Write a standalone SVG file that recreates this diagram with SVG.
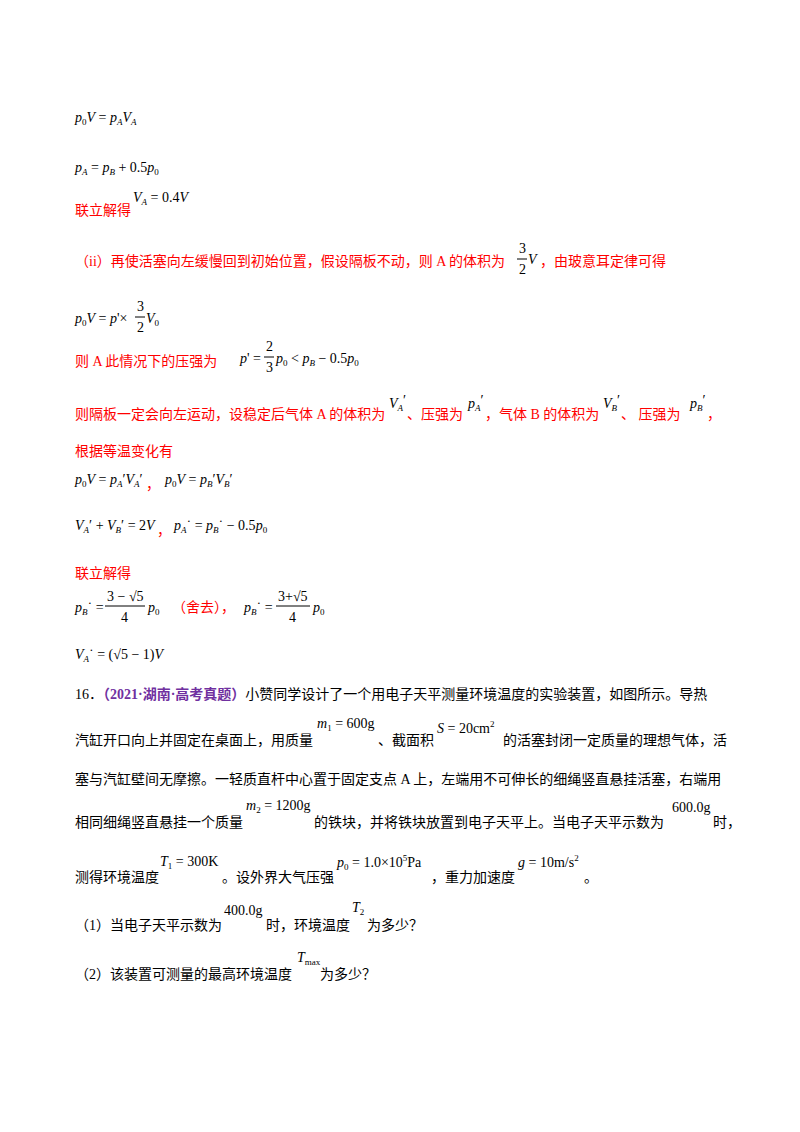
<svg xmlns="http://www.w3.org/2000/svg" width="800" height="1132" viewBox="0 0 800 1132">
<style>
text{font-family:"Liberation Serif","Noto Sans CJK SC",serif;font-size:14px;fill:#000}
.r{fill:#ff0000}
.m{font-style:italic}
.n{font-style:normal}
.s{font-size:9px}
.p{fill:#7030a0;font-weight:bold}
.f{font-size:14px}
</style>
<rect width="800" height="1132" fill="#fff"/>
<g id="solution">
<text x="75" y="122" class="m">p<tspan class="s n" dy="3">0</tspan><tspan dy="-3">V</tspan><tspan class="n"> = </tspan>p<tspan class="s" dy="3">A</tspan><tspan dy="-3">V</tspan><tspan class="s" dy="3">A</tspan></text>
<text x="75" y="172" class="m">p<tspan class="s" dy="3">A</tspan><tspan class="n" dy="-3"> = </tspan>p<tspan class="s" dy="3">B</tspan><tspan class="n" dy="-3"> + 0.5</tspan>p<tspan class="s n" dy="3">0</tspan></text>
<text x="75" y="215" class="r">联立解得</text>
<text x="133" y="202" class="m">V<tspan class="s" dy="3">A</tspan><tspan class="n" dy="-3"> = 0.4</tspan>V</text>
<text x="75" y="266" class="r">（ii）再使活塞向左缓慢回到初始位置，假设隔板不动，则 A 的体积为</text>
<text x="519" y="253" class="f">3</text><line x1="517" y1="259" x2="527" y2="259" stroke="#000"/><text x="519" y="274" class="f">2</text>
<text x="528" y="264" class="m">V</text>
<text x="540" y="266" class="r">，由玻意耳定律可得</text>
<text x="75" y="323" class="m">p<tspan class="s n" dy="3">0</tspan><tspan dy="-3">V</tspan><tspan class="n"> = </tspan>p<tspan class="n">'×</tspan></text>
<text x="137" y="311" class="f">3</text><line x1="135" y1="317" x2="145" y2="317" stroke="#000"/><text x="137" y="332" class="f">2</text>
<text x="146" y="323" class="m">V<tspan class="s n" dy="3">0</tspan></text>
<text x="75" y="366" class="r">则 A 此情况下的压强为</text>
<text x="240" y="363" class="m">p<tspan class="n">' = </tspan></text>
<text x="266" y="351" class="f">2</text><line x1="264" y1="357" x2="274" y2="357" stroke="#000"/><text x="266" y="372" class="f">3</text>
<text x="276" y="363" class="m">p<tspan class="s n" dy="3">0</tspan><tspan class="n" dy="-3"> &lt; </tspan>p<tspan class="s" dy="3">B</tspan><tspan class="n" dy="-3"> − 0.5</tspan>p<tspan class="s n" dy="3">0</tspan></text>
<text x="75" y="419" class="r">则隔板一定会向左运动，设稳定后气体 A 的体积为</text>
<text x="389" y="408" class="m">V<tspan class="s" dy="3">A</tspan><tspan class="n" dy="-6">′</tspan></text>
<text x="407" y="419" class="r">、压强为</text>
<text x="468" y="408" class="m">p<tspan class="s" dy="3">A</tspan><tspan class="n" dy="-6">′</tspan></text>
<text x="485" y="419" class="r">，气体 B 的体积为</text>
<text x="603" y="408" class="m">V<tspan class="s" dy="3">B</tspan><tspan class="n" dy="-6">′</tspan></text>
<text x="621" y="419" class="r">、 压强为</text>
<text x="690" y="408" class="m">p<tspan class="s" dy="3">B</tspan><tspan class="n" dy="-6">′</tspan></text>
<text x="707" y="419" class="r">，</text>
<text x="75" y="456" class="r">根据等温变化有</text>
<text x="75" y="484" class="m">p<tspan class="s n" dy="3">0</tspan><tspan dy="-3">V</tspan><tspan class="n"> = </tspan>p<tspan class="s" dy="3">A</tspan><tspan class="n" dy="-3">′</tspan>V<tspan class="s" dy="3">A</tspan><tspan class="n" dy="-3">′</tspan></text>
<text x="146" y="489" class="r">，</text>
<text x="165" y="484" class="m">p<tspan class="s n" dy="3">0</tspan><tspan dy="-3">V</tspan><tspan class="n"> = </tspan>p<tspan class="s" dy="3">B</tspan><tspan class="n" dy="-3">′</tspan>V<tspan class="s" dy="3">B</tspan><tspan class="n" dy="-3">′</tspan></text>
<text x="75" y="530" class="m">V<tspan class="s" dy="3">A</tspan><tspan class="n" dy="-3">′ + </tspan>V<tspan class="s" dy="3">B</tspan><tspan class="n" dy="-3">′ = 2</tspan>V</text>
<text x="157" y="535" class="r">，</text>
<text x="174" y="530" class="m">p<tspan class="s" dy="3">A</tspan><tspan class="n" dy="-3">˙ = </tspan>p<tspan class="s" dy="3">B</tspan><tspan class="n" dy="-3">˙ − 0.5</tspan>p<tspan class="s n" dy="3">0</tspan></text>
<text x="75" y="578" class="r">联立解得</text>
<text x="75" y="612" class="m">p<tspan class="s" dy="3">B</tspan><tspan class="n" dy="-3">˙ =</tspan></text>
<text x="107" y="601" class="f">3 − √5</text><line x1="105" y1="606" x2="145" y2="606" stroke="#000"/><text x="121" y="622" class="f">4</text>
<text x="148" y="612" class="m">p<tspan class="s n" dy="3">0</tspan></text>
<text x="172" y="612" class="r">（舍去），</text>
<text x="244" y="612" class="m">p<tspan class="s" dy="3">B</tspan><tspan class="n" dy="-3">˙ =</tspan></text>
<text x="278" y="601" class="f">3+√5</text><line x1="276" y1="606" x2="310" y2="606" stroke="#000"/><text x="289" y="622" class="f">4</text>
<text x="313" y="612" class="m">p<tspan class="s n" dy="3">0</tspan></text>
<text x="75" y="659" class="m">V<tspan class="s" dy="3">A</tspan><tspan class="n" dy="-3">˙ = (√5 − 1)</tspan>V</text>
</g>
<g id="question">
<text x="75" y="699">16．<tspan class="p">（2021·湖南·高考真题）</tspan>小赞同学设计了一个用电子天平测量环境温度的实验装置，如图所示。导热</text>
<text x="75" y="745">汽缸开口向上并固定在桌面上，用质量</text>
<text x="317" y="728" class="m">m<tspan class="s n" dy="3">1</tspan><tspan class="n" dy="-3"> = 600g</tspan></text>
<text x="378" y="745">、截面积</text>
<text x="437" y="733" class="m">S<tspan class="n"> = 20cm</tspan><tspan class="s n" dy="-6">2</tspan></text>
<text x="503" y="745">的活塞封闭一定质量的理想气体，活</text>
<text x="75" y="784">塞与汽缸壁间无摩擦。一轻质直杆中心置于固定支点 A 上，左端用不可伸长的细绳竖直悬挂活塞，右端用</text>
<text x="75" y="827">相同细绳竖直悬挂一个质量</text>
<text x="246" y="810" class="m">m<tspan class="s n" dy="3">2</tspan><tspan class="n" dy="-3"> = 1200g</tspan></text>
<text x="314" y="827">的铁块，并将铁块放置到电子天平上。当电子天平示数为</text>
<text x="672" y="812">600.0g</text>
<text x="713" y="827">时，</text>
<text x="75" y="882">测得环境温度</text>
<text x="160" y="866" class="m">T<tspan class="s n" dy="3">1</tspan><tspan class="n" dy="-3"> = 300K</tspan></text>
<text x="222" y="882">。设外界大气压强</text>
<text x="337" y="867" class="m">p<tspan class="s n" dy="3">0</tspan><tspan class="n" dy="-3"> = 1.0×10</tspan><tspan class="s n" dy="-6">5</tspan><tspan class="n" dy="6">Pa</tspan></text>
<text x="431" y="882">，重力加速度</text>
<text x="518" y="867" class="m">g<tspan class="n"> = 10m/s</tspan><tspan class="s n" dy="-6">2</tspan></text>
<text x="584" y="882">。</text>
<text x="75" y="930">（1）当电子天平示数为</text>
<text x="224" y="915">400.0g</text>
<text x="266" y="930">时，环境温度</text>
<text x="352" y="912" class="m">T<tspan class="s n" dy="3">2</tspan></text>
<text x="367" y="930">为多少？</text>
<text x="75" y="979">（2）该装置可测量的最高环境温度</text>
<text x="297" y="962" class="m">T<tspan class="s n" dy="3">max</tspan></text>
<text x="320" y="979">为多少？</text>
</g>
</svg>
